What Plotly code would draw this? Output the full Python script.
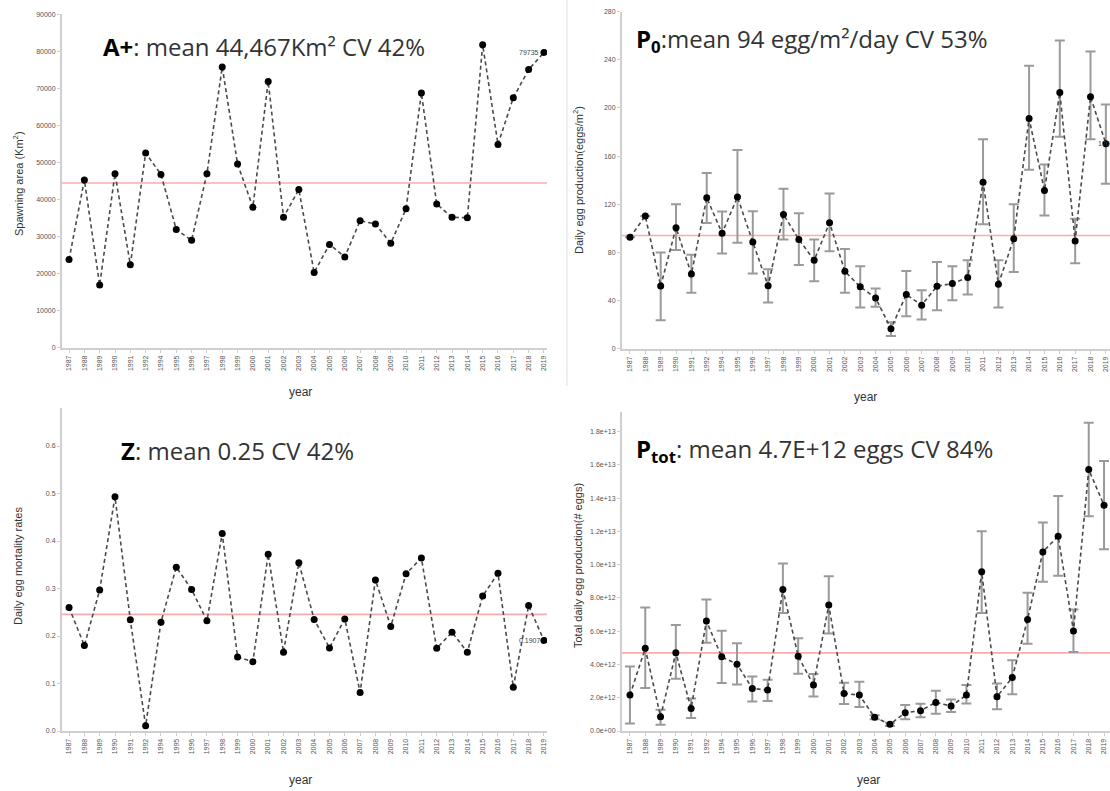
import plotly.graph_objects as go
import numpy as np

W, H = 1110, 791

years = ['1987','1988','1989','1990','1991','1992','1994','1995','1996','1997',
         '1998','1999','2000','2001','2002','2003','2004','2005','2006','2007',
         '2008','2009','2010','2011','2012','2013','2014','2015','2016','2017',
         '2018','2019']

# Spawning area A+ (Km2)
area = [23800, 45300, 16900, 47000, 22400, 52600, 46800, 31900, 29000, 47000,
        75800, 49600, 37900, 71900, 35200, 42700, 20300, 27900, 24500, 34300,
        33400, 28200, 37500, 68800, 38800, 35200, 35100, 81800, 54900, 67500,
        75100, 79735]
area_mean = 44467

# Daily egg production P0 (eggs/m2) with interval
p0 = [92.5, 110.2, 52.0, 100.5, 62.0, 125.4, 96.0, 126.0, 88.6, 52.2,
      111.5, 90.8, 73.5, 104.7, 64.3, 51.4, 42.2, 16.6, 45.0, 36.2,
      51.9, 54.1, 59.1, 138.3, 53.6, 91.4, 191.3, 131.4, 212.8, 89.5,
      209.3, 170.3]
p0_lo = [None, None, 23.6, 82.0, 46.5, 104.4, 79.0, 88.0, 62.4, 38.4,
         90.8, 69.5, 56.0, 81.0, 46.4, 34.3, 34.8, 10.5, 27.0, 24.3,
         32.0, 40.3, 45.0, 103.3, 34.3, 63.8, 148.6, 110.7, 176.0, 71.0,
         174.0, 137.0]
p0_hi = [None, None, 80.0, 120.0, 78.0, 146.0, 114.0, 165.0, 114.3, 66.0,
         133.0, 112.5, 90.8, 129.0, 82.8, 68.5, 50.0, 21.9, 64.5, 48.5,
         72.0, 68.5, 73.5, 174.0, 73.5, 120.0, 235.0, 153.0, 256.0, 108.0,
         247.0, 203.0]
p0_mean = 94

# Daily egg mortality Z
z = [0.260, 0.180, 0.297, 0.493, 0.234, 0.011, 0.229, 0.345, 0.298, 0.232,
     0.416, 0.156, 0.146, 0.372, 0.166, 0.354, 0.235, 0.175, 0.236, 0.081,
     0.318, 0.220, 0.331, 0.364, 0.174, 0.208, 0.166, 0.284, 0.332, 0.092,
     0.264, 0.1907]
z_mean = 0.2456

# Total daily egg production Ptot (eggs, x1e12) with interval
ptot = [2.16, 4.97, 0.86, 4.70, 1.36, 6.61, 4.46, 4.02, 2.56, 2.46,
        8.51, 4.50, 2.76, 7.57, 2.26, 2.16, 0.82, 0.40, 1.10, 1.22,
        1.72, 1.50, 2.16, 9.57, 2.06, 3.22, 6.71, 10.77, 11.71, 6.02,
        15.72, 13.57]
ptot_lo = [0.45, 2.58, 0.38, 3.14, 0.78, 5.30, 2.88, 2.80, 1.78, 1.80,
           7.10, 3.45, 2.08, 5.87, 1.62, 1.44, 0.70, 0.30, 0.70, 0.83,
           1.03, 1.14, 1.66, 7.10, 1.31, 2.21, 5.25, 8.97, 9.33, 4.75,
           12.91, 10.93]
ptot_hi = [3.88, 7.43, 1.28, 6.37, 1.96, 7.90, 6.03, 5.27, 3.28, 3.08,
           10.07, 5.57, 3.42, 9.31, 2.90, 2.96, 0.95, 0.50, 1.56, 1.64,
           2.42, 1.90, 2.76, 12.01, 2.86, 4.26, 8.31, 12.53, 14.13, 7.30,
           18.54, 16.23]
ptot_scale = 1e12
ptot_mean = 4.7e12

area_ticks = list(range(0, 90001, 10000))
p0_ticks = list(range(0, 281, 40))
z_ticks = [0.0, 0.1, 0.2, 0.3, 0.4, 0.5, 0.6]
z_ticktext = ['0.0', '0.1', '0.2', '0.3', '0.4', '0.5', '0.6']
ptot_ticks = [i * 2e12 for i in range(10)]
ptot_ticktext = ['0.0e+00', '2.0e+12', '4.0e+12', '6.0e+12', '8.0e+12',
                 '1.0e+13', '1.2e+13', '1.4e+13', '1.6e+13', '1.8e+13']

last_label_area = '79735'
last_label_p0 = '170'
last_label_z = '0.1907'


def px(x):
    return x / W


def py(y):
    return 1 - y / H


fig = go.Figure()

LINE_COL = '#4a4a4a'
ERR_COL = '#9a9a9a'
MEAN_COL = '#ffaaaa'
AX_COL = '#cfcfcf'
TICKFONT = dict(family='Liberation Sans, Arial', size=7, color='#555555')


def add_series(idx, yvals, lo=None, hi=None, scale=1.0):
    xa = 'x' if idx == 1 else f'x{idx}'
    ya = 'y' if idx == 1 else f'y{idx}'
    yv = [v * scale for v in yvals]
    if lo is not None:
        up = [None if h is None else (h - v) * scale for v, h in zip(yvals, hi)]
        dn = [None if l is None else (v - l) * scale for v, l in zip(yvals, lo)]
        fig.add_trace(go.Scatter(
            x=years, y=yv, mode='markers', xaxis=xa, yaxis=ya,
            marker=dict(size=1, color='rgba(0,0,0,0)'),
            error_y=dict(type='data', symmetric=False, array=up, arrayminus=dn,
                         color=ERR_COL, thickness=2, width=5),
            showlegend=False, hoverinfo='skip'))
    fig.add_trace(go.Scatter(
        x=years, y=yv, mode='lines+markers', xaxis=xa, yaxis=ya,
        line=dict(color=LINE_COL, width=1.6, dash='4px,3px'),
        marker=dict(size=7, color='black'),
        showlegend=False))


def add_mean(idx, val):
    xa = 'x' if idx == 1 else f'x{idx}'
    ya = 'y' if idx == 1 else f'y{idx}'
    fig.add_shape(type='line', xref=f'{xa} domain', yref=ya, x0=0, x1=1,
                  y0=val, y1=val, line=dict(color=MEAN_COL, width=1.6), layer='below')


add_mean(1, area_mean)
add_series(1, area)
add_mean(2, p0_mean)
add_series(2, p0, p0_lo, p0_hi)
add_mean(3, z_mean)
add_series(3, z)
add_mean(4, ptot_mean)
add_series(4, ptot, ptot_lo, ptot_hi, ptot_scale)

common_x = dict(type='category', showline=True, linecolor=AX_COL, linewidth=2,
                ticks='outside', ticklen=3, tickcolor=AX_COL, tickangle=-90,
                tickfont=TICKFONT, showgrid=False, zeroline=False, automargin=False)
common_y = dict(showline=True, linecolor=AX_COL, linewidth=2, ticks='outside',
                ticklen=3, tickcolor=AX_COL, tickfont=TICKFONT, showgrid=False,
                zeroline=False, automargin=False)

fig.update_layout(
    width=W, height=H,
    margin=dict(l=0, r=0, t=0, b=0, pad=0, autoexpand=False),
    paper_bgcolor='white', plot_bgcolor='white',
    xaxis=dict(common_x, domain=[px(62), px(547)], range=[-0.46, 31.2], anchor='y'),
    yaxis=dict(common_y, domain=[py(347.7), py(14.4)], range=[0, 90000],
               tickvals=area_ticks, tickformat='d', anchor='x'),
    xaxis2=dict(common_x, domain=[px(622), 1], range=[-0.52, 31.27], anchor='y2'),
    yaxis2=dict(common_y, domain=[py(348.7), py(11.7)], range=[0, 280],
                tickvals=p0_ticks, anchor='x2'),
    xaxis3=dict(common_x, domain=[px(62), px(547)], range=[-0.46, 31.2], anchor='y3'),
    yaxis3=dict(common_y, domain=[py(731), py(408)], range=[0, 0.68],
                tickvals=z_ticks, ticktext=z_ticktext, anchor='x3'),
    xaxis4=dict(common_x, domain=[px(622), 1], range=[-0.52, 31.39], anchor='y4'),
    yaxis4=dict(common_y, domain=[py(731), py(411.7)], range=[0, 1.92e13],
                tickvals=ptot_ticks, ticktext=ptot_ticktext, anchor='x4'),
)

TITLE_FONT = dict(family='Open Sans, Noto Sans', size=24, color='#333333')
titles = [
    (101, 46, '<b style="color:black">A+</b>: mean 44,467Km² CV 42%'),
    (634, 40, '<b style="color:black">P<sub>0</sub></b>:mean 94 egg/m²/day CV 53%'),
    (119, 450, '<b style="color:black">Z</b>: mean 0.25 CV 42%'),
    (634, 450, '<b style="color:black">P<sub>tot</sub></b>: mean 4.7E+12 eggs CV 84%'),
]
for x, y, t in titles:
    fig.add_annotation(x=px(x), y=py(y), xref='paper', yref='paper', text=t,
                       showarrow=False, xanchor='left', yanchor='middle',
                       font=TITLE_FONT)

AXT_FONT = dict(family='Liberation Sans, Arial', size=11, color='#333333')
ytitles = [
    (18, 184, 'Spawning area (Km<sup>2</sup>)'),
    (578, 180, 'Daily egg production(eggs/m<sup>2</sup>)'),
    (18, 566, 'Daily egg mortality rates'),
    (578, 566, 'Total daily egg production(# eggs)'),
]
for x, y, t in ytitles:
    fig.add_annotation(x=px(x), y=py(y), xref='paper', yref='paper', text=t,
                       showarrow=False, textangle=-90, xanchor='center',
                       yanchor='middle', font=AXT_FONT)

for x, y in [(300, 392), (865, 397), (300, 780), (868, 780)]:
    fig.add_annotation(x=px(x), y=py(y), xref='paper', yref='paper', text='year',
                       showarrow=False, xanchor='center', yanchor='middle',
                       font=dict(family='Liberation Sans, Arial', size=12, color='#333333'))

LBL_FONT = dict(family='Liberation Sans, Arial', size=7, color='#444444')
last_idx = len(years) - 1
fig.add_annotation(x=last_idx, y=area[-1], xref='x', yref='y', text=last_label_area,
                   showarrow=False, xanchor='right', xshift=-3, yanchor='middle',
                   font=LBL_FONT)
fig.add_annotation(x=last_idx, y=p0[-1], xref='x2', yref='y2', text=last_label_p0,
                   showarrow=False, xanchor='right', xshift=6, yanchor='middle',
                   font=LBL_FONT)
fig.add_annotation(x=last_idx, y=z[-1], xref='x3', yref='y3', text=last_label_z,
                   showarrow=False, xanchor='right', xshift=-1, yanchor='middle',
                   font=LBL_FONT)

# screenshot border of the first panel
fig.add_shape(type='line', xref='paper', yref='paper', x0=px(567), x1=px(567),
              y0=py(0), y1=py(386), line=dict(color='#dddddd', width=1))

fig.write_html('out.html', config={'displayModeBar': False},
               post_script="document.body.style.margin='0';document.body.style.padding='0';")
